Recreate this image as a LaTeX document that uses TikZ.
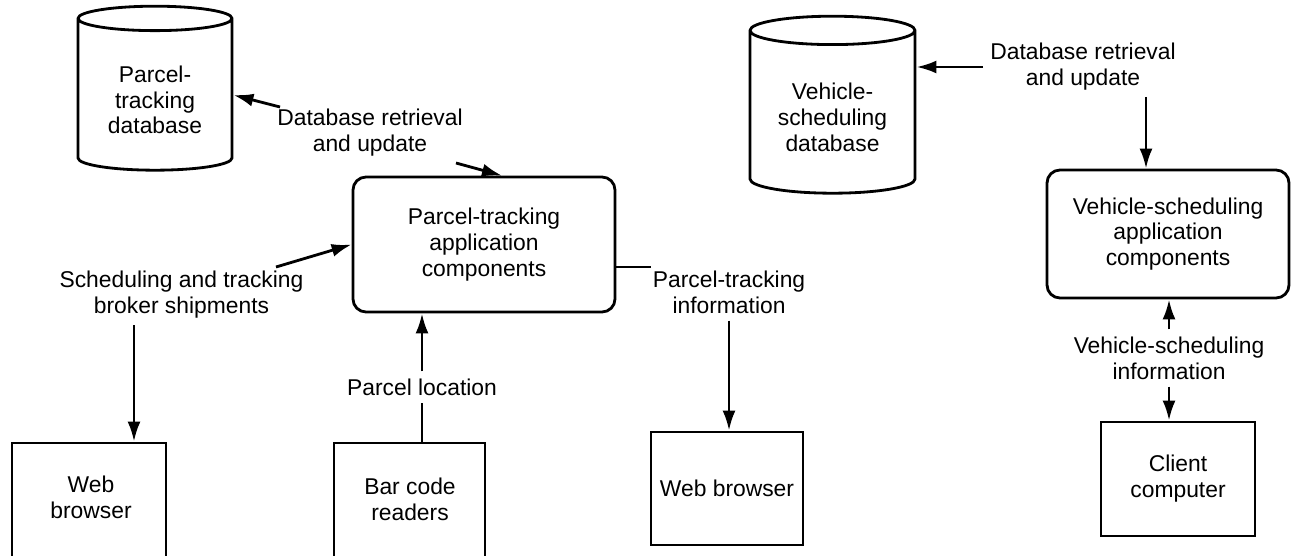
\documentclass[tikz,border=0pt]{standalone}
\usepackage{fontspec}
\setmainfont{Liberation Sans}
\usetikzlibrary{arrows.meta,positioning,shapes.geometric}

\begin{document}
\begin{tikzpicture}[x=0.2mm, y=-0.2mm, line width=1.6pt,
  every node/.style={font=\fontsize{13}{14.7}\selectfont},
  db node/.style={cylinder,shape border rotate=90,aspect=0.26,draw,align=center,inner sep=0pt},
  app node/.style={rectangle,draw,rounded corners=2.6mm,align=center,inner sep=0pt},
  box node/.style={rectangle,draw,align=center,inner sep=0pt},
  text node/.style={align=center},
  flow/.style={-{Latex[length=4mm,width=2.6mm]}}]
\useasboundingbox (0,0) rectangle (1291,555);
\clip (0,0) rectangle (1291,555);
\begin{scope}
\node[db node,minimum width=30.8mm,minimum height=32.8mm] (ptdb) at (155,95) {\rule{0pt}{15pt}Parcel-\\tracking\\database};
\node[db node,minimum width=33mm,minimum height=35.4mm] (vsdb) at (832.5,112.5) {\rule{0pt}{15pt}Vehicle-\\scheduling\\database};
\node[app node,minimum width=52.4mm,minimum height=27mm] (ptapp) at (484,244.5) {Parcel-tracking\\application\\components};
\node[app node,minimum width=48.4mm,minimum height=25.6mm] (vsapp) at (1168,234) {Vehicle-scheduling\\application\\components};
\node[box node,minimum width=30.8mm,minimum height=27.4mm] (wb1) at (89,511.5) {};
\node[text node] (wb1txt) at (91,497) {Web\\browser};
\node[box node,minimum width=30.2mm,minimum height=27.4mm] (bcr) at (409.5,511.5) {};
\node[text node] (bcrtxt) at (410,499) {Bar code\\readers};
\node[box node,minimum width=30.4mm,minimum height=22.6mm] (wb2) at (727,488.5) {Web browser};
\node[box node,minimum width=30.8mm,minimum height=22.8mm] (cc) at (1178,479) {Client\\computer};
\end{scope}
% flow labels
\begin{scope}
\node[text node] (ptdbq) at (370,133) {Database retrieval\\and update};
\node[text node] (sched) at (181.5,295) {Scheduling and tracking\\broker shipments};
\node[text node] (ploc) at (422,387) {Parcel location};
\node[text node] (ptinfo) at (729,292) {Parcel-tracking\\information};
\node[text node] (vsdbq) at (1083,67) {Database retrieval\\and update};
\node[text node] (vsinfo) at (1169,358) {Vehicle-scheduling\\information};
\coordinate (q1) at (280,107);
\coordinate (q2) at (456,163);
\coordinate (s1) at (276,267);
\coordinate (s2) at (134,325);
\coordinate (p1) at (651,267);
\coordinate (v1) at (1146,97);
\end{scope}
\begin{scope}
\draw[flow] (q1) -- (ptdb.east);
\draw[flow] (q2) -- ([xshift=3.6mm]ptapp.north);
\draw[flow] (s1) -- (ptapp.west);
\draw[flow] (s2) -- (s2 |- wb1.north);
\draw (bcr.north -| ploc) -- (ploc.south);
\draw[flow] (ploc.north) -- (ploc.north |- ptapp.south);
\draw (ptapp.east |- p1) -- (p1);
\draw[flow] (ptinfo.south) -- (ptinfo.south |- wb2.north);
\draw[flow] (vsdbq.west) -- (vsdbq.west -| vsdb.east);
\draw[flow] (v1) -- (v1 |- vsapp.north);
\draw[flow] (vsinfo.north) -- (vsinfo.north |- vsapp.south);
\draw[flow] (vsinfo.south) -- (vsinfo.south |- cc.north);
\end{scope}
\end{tikzpicture}
\end{document}
